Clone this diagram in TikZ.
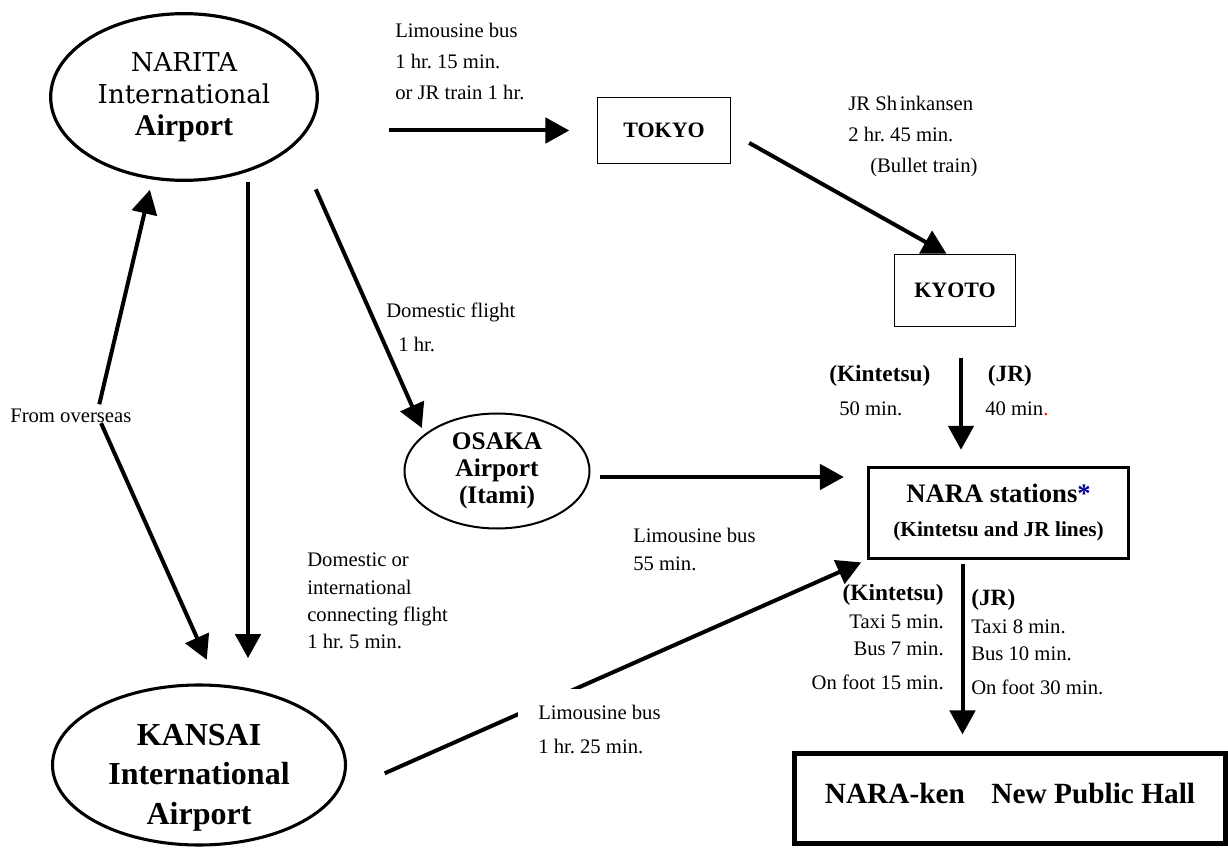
\documentclass[tikz,border=0pt]{standalone}
\usepackage{fontspec}
\setmainfont{Liberation Serif}
\newfontfamily\naritafont{DejaVu Serif}
\usetikzlibrary{shapes.geometric,arrows.meta,calc}
\definecolor{stardark}{RGB}{0,0,150}
\frenchspacing

\begin{document}
\begin{tikzpicture}[x=0.75pt,y=-0.75pt,
  arr/.style={line width=3pt,-{Triangle[length=18pt,width=19pt]}},
  lbl/.style={inner sep=0pt,align=left,font=\fontsize{15.5}{23.6}\selectfont},
  station/.style={draw,line width=1.1pt,inner sep=0pt,font=\fontsize{16.5}{20}\selectfont\bfseries}]
\useasboundingbox (0,0) rectangle (1228,848);

\node[ellipse,draw,line width=2.4pt,inner sep=0pt,minimum width=200pt,minimum height=125pt,align=center,
      font=\naritafont\fontsize{19.5}{24}\selectfont] (narita) at (184,97)
  {NARITA\\International\\{\rmfamily\fontsize{22.5}{24}\selectfont\bfseries Airport}};
\node[station,minimum width=99.75pt,minimum height=49.5pt] (tokyo) at (664,130.5) {TOKYO};
\node[station,minimum width=90.75pt,minimum height=54pt] (kyoto) at (955,290.5) {KYOTO};
\node[ellipse,draw,line width=1.5pt,inner sep=0pt,minimum width=138.75pt,minimum height=86.25pt,align=center,
      font=\fontsize{19}{20.3}\selectfont\bfseries] (osaka) at (497,471) {OSAKA\\Airport\\(Itami)};
\node[draw,line width=1.8pt,inner sep=0pt,minimum width=195pt,minimum height=68.25pt,align=center,
      font=\fontsize{16}{25.5}\selectfont\bfseries] (nara) at (998.5,513)
  {{\fontsize{20}{25.5}\selectfont NARA stations{\color{stardark}*}}\\(Kintetsu and JR lines)};
\node[draw,line width=3.8pt,inner sep=0pt,minimum width=323pt,minimum height=67.5pt,text height=16pt,text depth=9pt,
      font=\fontsize{22}{26}\selectfont\bfseries] (hall) at (1010,798.5) {NARA-ken\hspace{0.9em}New Public Hall};
\node[ellipse,draw,line width=2.3pt,inner sep=0pt,minimum width=219.75pt,minimum height=120pt] (kansai) at (199,765) {};
\node[align=center,inner sep=0pt,font=\fontsize{24}{29.6}\selectfont\bfseries] (kansaitext) at ($(kansai)+(0,12.5)$)
  {KANSAI\\International\\Airport};

\node[lbl,anchor=west] (limotokyo) at (395,61.5) {Limousine bus\\1 hr. 15 min.\\or JR train 1 hr.};
\node[lbl,anchor=west,font=\fontsize{15.5}{23.25}\selectfont] (shinkansen) at (848,137)
  {JR Sh\hspace{2pt}inkansen\\2 hr. 45 min.\\\hspace*{16.5pt}(Bullet train)};
\node[lbl,anchor=west,font=\fontsize{15.5}{25.5}\selectfont] (domflight) at (386,327) {Domestic flight\\\hspace*{9pt}1 hr.};
\node[lbl,anchor=west] (overseas) at (10,416) {From overseas};
\node[lbl,anchor=west,font=\fontsize{15.5}{20.5}\selectfont] (connect) at (307,601)
  {Domestic or\\international\\connecting flight\\1 hr. 5 min.};
\node[lbl,anchor=west,font=\fontsize{15.5}{21}\selectfont] (limoitami) at (633,549) {Limousine bus\\55 min.};
\node[lbl,anchor=west,font=\fontsize{15.5}{25.5}\selectfont] (kintetsuA) at (829,391)
  {{\fontsize{17.5}{25.5}\selectfont\bfseries (Kintetsu)}\\\hspace*{7.5pt}50 min.};
\node[lbl,anchor=west,font=\fontsize{15.5}{25.5}\selectfont] (jrA) at (985,391)
  {\hspace*{2pt}{\fontsize{17.5}{25.5}\selectfont\bfseries (JR)}\\40 min{\color{red}.}};
\node[lbl,anchor=east,align=right,font=\fontsize{15.5}{20.6}\selectfont] (kintetsuB) at (944,637.5)
  {{\fontsize{17.5}{20.6}\selectfont\bfseries (Kintetsu)}\\Taxi 5 min.\\Bus 7 min.\\[4.9pt]On foot 15 min.};
\node[lbl,anchor=west,font=\fontsize{15.5}{20.6}\selectfont] (jrB) at (971,642.5)
  {{\fontsize{17.5}{20.6}\selectfont\bfseries (JR)}\\Taxi 8 min.\\Bus 10 min.\\[4.9pt]On foot 30 min.};

\coordinate (ovs) at (97,414);
\draw[arr,shorten <=7.5pt,shorten >=7.9pt] (ovs) -- (narita.249);
\draw[arr,shorten <=7.5pt,shorten >=20pt] (ovs) -- (kansai.77.8);
\draw[arr,shorten <=52.5pt,shorten >=20.6pt] (narita.east |- tokyo.west) -- (tokyo.west);
\draw[arr,shorten <=15.4pt] (tokyo.-2) -- (kyoto.103);
\draw[arr,shorten <=22.9pt,shorten >=12.4pt] ($(kyoto.south)+(6,0)$) -- ($(kyoto.south |- nara.north)+(6,0)$);
\draw[arr,shorten >=19pt] ($(narita.south)+(64,0)$) -- ($(narita.south |- kansai.north)+(64,0)$);
\draw[arr,shorten <=36.8pt,shorten >=5pt] (narita.-23.5) -- (osaka.153);
\draw[arr,shorten <=7pt,shorten >=17.6pt] ($(osaka.east)+(0,6)$) -- ($(osaka.east -| nara.west)+(0,6)$);
\draw[arr,shorten <=3.5pt,shorten >=12.4pt] ($(nara.south)+(-36,0)$) -- ($(nara.south |- hall.north)+(-36,0)$);
\draw[arr,shorten <=39pt,shorten >=5pt] (kansai.-12.9) -- (nara.south west);

\node[lbl,anchor=north west,fill=white,inner xsep=15pt,inner ysep=12pt,font=\fontsize{15.5}{25.5}\selectfont]
  (limokansai) at (518,689) {Limousine bus\\1 hr. 25 min.};
\end{tikzpicture}
\end{document}
